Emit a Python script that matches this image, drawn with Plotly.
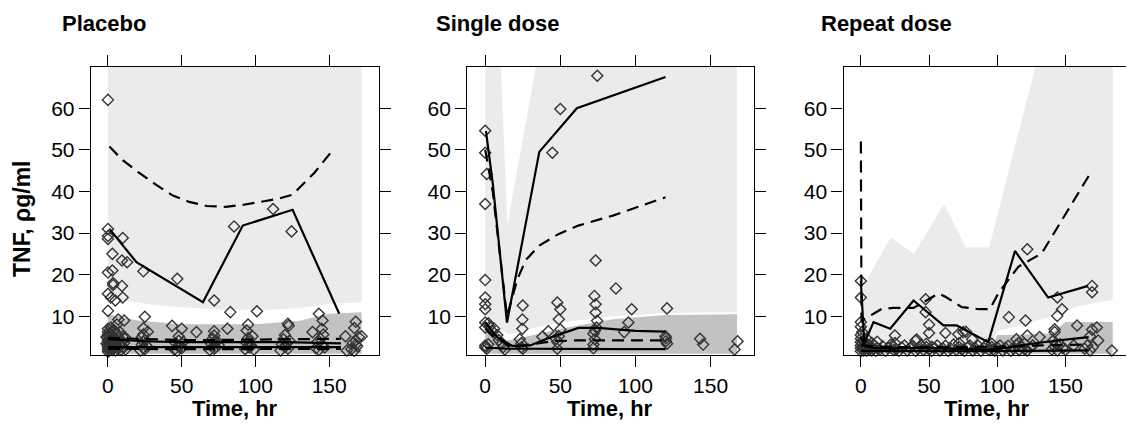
import plotly.graph_objects as go

# ---------------- axes / labels ----------------
PANEL_TITLES = ["Placebo", "Single dose", "Repeat dose"]
X_TICKS = [0, 50, 100, 150]
Y_TICKS = [10, 20, 30, 40, 50, 60]
X_RANGES = [[-11.6, 184.0], [-12.0, 178.7], [-12.7, 197.3]]
Y_RANGE = [0.7, 69.9]
X_TITLE = "Time, hr"
Y_TITLE = "TNF, ρg/ml"

# ---------------- Placebo ----------------
pl_light_lo_x = [0, 10, 30, 50, 80, 110, 130, 150, 172]
pl_light_lo = [14.2, 13.8, 12.8, 12.2, 11.6, 11.6, 12.0, 13.0, 13.3]
pl_light_hi_x = [0, 172]
pl_light_hi = [70, 70]
pl_dark_x = [0, 20, 50, 100, 130, 150, 172]
pl_dark_hi = [10.5, 9.0, 8.1, 8.1, 8.9, 10.6, 11.0]
pl_dark_lo = [1.0, 1.0, 1.0, 1.0, 1.0, 1.0, 1.0]

pl_obs95_x = [1, 19.3, 64.4, 91.4, 125.2, 156.8]
pl_obs95 = [31, 23, 13.4, 31.8, 35.6, 10.6]
pl_sim95_x = [1, 10, 21, 33, 44, 55, 67, 80, 92, 103, 115, 125, 140, 153]
pl_sim95 = [50.8, 47.5, 44.5, 41.5, 39, 37.5, 36.5, 36.3, 36.8, 37.4, 38.2, 39.2, 44.5, 50.2]
pl_med_x = [0, 24, 48, 72, 96, 120, 144, 158]
pl_obs50 = [4.5, 4.0, 3.8, 3.8, 3.9, 3.8, 3.6, 3.5]
pl_sim50 = [4.8, 4.5, 4.3, 4.3, 4.4, 4.4, 4.6, 4.6]
pl_obs05 = [2.6, 2.6, 2.5, 2.5, 2.5, 2.5, 2.6, 2.6]
pl_sim05 = [2.2, 2.1, 2.1, 2.1, 2.1, 2.1, 2.2, 2.2]

pl_points = [
    (0, 62), (0, 31), (0, 28.6), (0, 29.3), (3, 25), (10, 28.8), (0, 20.5), (3, 21),
    (3.5, 18), (0, 15.4), (3.5, 17.5), (5, 13.8), (9.5, 17.3), (10, 14.5), (9.5, 23.4),
    (13, 23), (0, 11.3), (2, 14.5), (24, 20.8), (47, 19), (72, 13.8), (85.5, 31.6),
    (112, 35.8), (124.5, 30.4), (83, 11), (101, 11.2), (143, 10.6), (25, 9.9), (11, 9),
    (43.5, 7.7), (50, 7), (60, 6.2), (72, 6.4), (81, 7), (94, 6.6), (95, 8), (122, 8.2),
    (122.5, 7.7), (138.7, 6.2), (145, 7), (145.5, 9), (161, 5.2), (168, 8.7), (167, 7.2),
    (172, 5.2), (168, 3.2), (162, 1.8), (6, 8), (4, 6.5), (7, 9.2),
    (0, 1.5), (0, 2.0), (0, 2.6), (0, 3.1), (0, 3.7), (0, 4.2), (0, 4.9), (0, 5.6),
    (0, 6.3), (0, 7.0), (0.5, 2.3), (0.5, 5.3), (1, 1.7), (1, 3.4), (1, 6.0), (1.5, 2.8),
    (2, 2.1), (2, 4.0), (2, 7.3), (3, 1.9), (3, 3.3), (3, 5.1), (4, 2.4), (4, 4.6),
    (4, 6.7), (5, 1.8), (5, 3.9), (6, 2.7), (6, 4.3), (6, 5.8), (7, 2.2), (8, 3.0),
    (8, 6.2), (9, 1.9), (10, 2.6), (11, 3.6), (12, 2.0), (12, 4.8), (-1, 3.4), (-1, 5.0),
    (1, 4.5), (2, 5.6), (3, 2.5), (5, 3.0), (7, 4.9), (9, 3.8), (10, 5.1),
    (22, 1.8), (23, 3.2), (23, 5.0), (24, 2.4), (24, 3.9), (24, 5.6), (24, 7.1),
    (25, 2.1), (25, 4.3), (26, 3.0), (27, 6.3),
    (45, 2.0), (46, 3.5), (47, 1.7), (48, 2.7), (48, 4.1), (48, 5.2), (49, 3.0),
    (50, 2.3), (51, 3.8),
    (69, 1.9), (70, 3.4), (71, 4.6), (72, 2.2), (72, 3.8), (72, 5.4), (73, 2.6),
    (74, 4.0), (75, 3.1),
    (93, 2.1), (94, 3.6), (95, 4.8), (96, 2.5), (96, 3.9), (97, 3.0), (98, 5.2), (99, 2.0),
    (117, 1.8), (118, 3.3), (119, 4.5), (120, 2.6), (120, 5.5), (121, 3.7), (122, 2.2),
    (123, 4.1),
    (141, 2.3), (142, 3.8), (143, 1.9), (144, 4.6), (145, 3.1), (146, 5.6), (147, 2.5),
    (165, 2.1), (166, 3.6), (167, 1.7), (168, 4.2), (169, 2.8), (170, 5.0),
]

# ---------------- Single dose ----------------
sd_light_lo_x = [0, 5, 10, 15, 20, 30, 50, 85, 120, 167.6]
sd_light_lo = [10.5, 9.0, 7.0, 5.8, 6.0, 7.0, 8.5, 10.0, 10.8, 11.0]
sd_light_hi_x = [0, 10.4, 14.8, 33.7, 167.6]
sd_light_hi = [70, 70, 32, 70, 70]
sd_dark_x = [0, 5, 10, 15, 20, 30, 50, 85, 120, 167.6]
sd_dark_hi = [8.5, 7.0, 5.0, 4.2, 4.5, 5.3, 7.0, 9.3, 10.3, 10.5]
sd_dark_lo = [1.0, 1.0, 1.0, 1.0, 1.0, 1.0, 1.0, 1.0, 1.0, 1.0]

sd_obs95_x = [0.5, 5, 14.5, 36, 61, 120]
sd_obs95 = [54.5, 42, 8.5, 49.5, 60, 67.5]
sd_sim95_x = [0, 5, 14.5, 21.5, 27, 36, 49, 62, 85, 120]
sd_sim95 = [50, 40, 10, 19, 23.5, 27, 29.8, 31.8, 34.2, 38.6]
sd_obs50_x = [0, 8, 18, 30, 40, 50, 62, 75, 100, 120]
sd_obs50 = [8.5, 5.0, 2.9, 3.0, 4.5, 5.8, 7.2, 7.2, 6.5, 6.3]
sd_sim50_x = [0, 8, 18, 30, 45, 60, 90, 120]
sd_sim50 = [7.0, 4.5, 2.6, 3.2, 4.0, 4.2, 4.2, 4.2]
sd_obs05_x = [0, 15, 30, 60, 90, 120]
sd_obs05 = [2.5, 2.2, 2.2, 2.1, 2.1, 2.1]

sd_points = [
    (0, 54.6), (0, 49.3), (1, 44.2), (0, 37), (0, 18.7), (0, 14.5), (0, 12.9), (0, 11.7),
    (0, 8.5), (0, 7.3), (74.6, 67.8), (50, 59.8), (44.7, 49.3), (73.5, 23.4), (87, 16.7),
    (72.7, 14.9), (73.5, 12.9), (73.5, 10.9), (74.5, 8.9), (97.5, 11.7), (95.3, 8.5),
    (121, 11.9), (48, 13.3), (50, 11.7), (25, 12.6), (24.7, 9.2), (24.7, 7), (49, 9.3),
    (42, 6.4), (38, 5.1), (92.5, 6.2), (143, 4.6), (145, 3.2), (168, 4), (166, 2),
    (120.3, 4), (120.3, 4.7),
    (2, 8.3), (3, 7.5), (5, 6.3), (6, 7), (8, 5.5), (9, 4.3), (11, 3.4), (12, 2.6),
    (13, 2), (0, 3), (0, 2.5), (1, 2.2), (2, 3.3), (24, 2.5), (24, 3.5), (25, 2.2),
    (23, 4.5), (48, 2.2), (48, 3.8), (49, 5.2), (50, 6.8), (47, 4.6), (72, 2.3),
    (72, 3.2), (73, 4.5), (72, 5.8), (74, 7.3), (73, 6.5), (121, 3.4), (120, 5.2),
]

# ---------------- Repeat dose ----------------
rd_light_lo_x = [0, 95, 100, 120, 140, 160, 184.6]
rd_light_lo = [3.0, 3.0, 6.5, 8.0, 10.0, 12.5, 14.0]
rd_light_hi_x = [0, 3, 22, 39, 61, 77, 94, 128, 184.6]
rd_light_hi = [14, 18, 29, 25, 37, 26.5, 26.5, 70, 70]
rd_dark_x = [0, 95, 100, 120, 140, 150, 184.6]
rd_dark_hi = [2.5, 2.5, 5.5, 5.6, 5.9, 8.6, 8.6]
rd_dark_lo = [1.0, 1.0, 1.0, 1.0, 1.0, 1.0, 1.0]

rd_obs95_x = [0, 2.5, 9.3, 21.5, 38.6, 60.5, 70.2, 93.4, 113, 137.3, 166.6]
rd_obs95 = [18.5, 3.5, 8.6, 7, 13.8, 7.8, 7.8, 3.8, 25.7, 14.5, 17.3]
rd_sim95_x = [0, 0.5, 9.3, 15.4, 24, 38.6, 57, 62, 74, 87, 94.6, 100.7, 115.4, 132.5, 167]
rd_sim95 = [52, 9, 10.6, 11.8, 12, 12, 15.5, 14.7, 12.2, 11.7, 11.7, 15.5, 21.9, 25.1, 43.7]
rd_obs50_x = [0, 3, 10, 20, 40, 60, 80, 95, 110, 125, 145, 167]
rd_obs50 = [5.0, 2.8, 2.4, 2.2, 2.4, 2.2, 2.1, 2.0, 2.6, 3.4, 4.2, 5.0]
rd_sim50_x = [0, 20, 60, 100, 130, 167]
rd_sim50 = [3.0, 2.6, 2.6, 2.7, 3.0, 3.2]
rd_obs05_x = [0, 40, 80, 120, 167]
rd_obs05 = [1.7, 1.6, 1.6, 1.7, 1.8]

rd_points = [
    (0, 18.5), (0, 14.5), (0, 8.6), (0, 7.5), (47.5, 14.1), (47.5, 11), (50, 8), (50, 6),
    (62, 6), (40, 4.2), (77, 6.3), (81.6, 4.5), (108.5, 9.8), (120.7, 9), (122, 5.4),
    (122, 26.1), (144, 14.5), (144, 10.1), (147.5, 11.7), (158.5, 7.8), (169.5, 17.3),
    (169.5, 15.8), (174, 4.2), (184, 1.8), (173, 7.3), (169.5, 6.8), (156, 3), (141, 4.2),
    (143, 3.4), (131, 5), (114, 4.5), (115.5, 3.5), (52, 2.7), (25, 5.4), (41, 4.4),
    (71.4, 5.7), (75, 6.2), (142, 6.9), (142, 6.2),
    (0, 1.6), (0, 2.3), (0, 3.0), (0, 3.8), (0, 4.6), (0, 5.5), (1, 2.0), (1, 3.4),
    (1, 6.2), (2, 1.8), (2, 2.7), (2, 4.1), (3, 2.2), (3, 3.3), (4, 1.7), (4, 2.9),
    (5, 2.4), (5, 4.4), (6, 1.9), (6, 3.1), (7, 2.6), (8, 1.8), (8, 3.6), (9, 2.2),
    (10, 2.9), (11, 1.7), (12, 2.4), (12, 3.9), (14, 2.0), (16, 2.8), (18, 1.7),
    (20, 2.3), (22, 3.2), (24, 1.9), (24, 2.7), (25, 3.6), (26, 2.1), (28, 1.7),
    (30, 2.5), (32, 3.0), (34, 1.8), (36, 2.4), (38, 2.9), (40, 1.7), (42, 2.2),
    (44, 3.1), (46, 1.9), (48, 2.6), (48, 3.4), (50, 2.0), (52, 1.7), (54, 2.4),
    (56, 3.0), (58, 1.8), (60, 2.3), (62, 2.9), (64, 1.7), (66, 2.2), (68, 3.2),
    (70, 1.9), (72, 2.6), (72, 3.5), (74, 2.0), (76, 1.7), (78, 2.5), (80, 3.0),
    (82, 1.8), (84, 2.3), (86, 2.9), (88, 1.7), (90, 2.4), (92, 3.1), (94, 1.9),
    (96, 2.6), (96, 3.4), (97, 2.0), (98, 1.7), (100, 2.5), (102, 3.0), (104, 1.8),
    (106, 2.4), (108, 2.9), (110, 1.7), (112, 2.2), (114, 3.1), (116, 1.9), (118, 2.6),
    (120, 2.1), (120, 3.4), (122, 1.8), (124, 2.5), (126, 3.0), (140, 2.0), (142, 2.8),
    (144, 1.8), (146, 3.3), (148, 2.4), (150, 1.9), (164, 2.2), (166, 3.0), (168, 1.8),
    (168, 5.2), (170, 2.6),
]

# ---------------- styling ----------------
W, H = 1134, 429
OFF = 8  # the page body adds an 8px margin on top and left
X_DOMAINS_PX = [(91, 380), (468, 755), (845, 1132)]
TITLE_LEFT_PX = [62, 437, 822]
Y_TOP_PX, Y_BOT_PX = 67, 355
LIGHT = "#ebebeb"
DARK = "#c2c2c2"
FONT = "Liberation Sans, Arial, sans-serif"
DASH = "12px,7px"


def px_x(px):
    return (px - OFF) / W


def px_y(py):
    return 1 - (py - OFF) / H


panels = [
    dict(light_lo_x=pl_light_lo_x, light_lo=pl_light_lo, light_hi_x=pl_light_hi_x, light_hi=pl_light_hi,
         dark_x=pl_dark_x, dark_hi=pl_dark_hi, dark_lo=pl_dark_lo,
         lines=[(pl_obs95_x, pl_obs95, "solid"), (pl_sim95_x, pl_sim95, DASH),
                (pl_med_x, pl_sim50, DASH), (pl_med_x, pl_obs50, "solid"),
                (pl_med_x, pl_sim05, DASH), (pl_med_x, pl_obs05, "solid")],
         points=pl_points),
    dict(light_lo_x=sd_light_lo_x, light_lo=sd_light_lo, light_hi_x=sd_light_hi_x, light_hi=sd_light_hi,
         dark_x=sd_dark_x, dark_hi=sd_dark_hi, dark_lo=sd_dark_lo,
         lines=[(sd_obs95_x, sd_obs95, "solid"), (sd_sim95_x, sd_sim95, DASH),
                (sd_obs50_x, sd_obs50, "solid"), (sd_sim50_x, sd_sim50, DASH),
                (sd_obs05_x, sd_obs05, "solid")],
         points=sd_points),
    dict(light_lo_x=rd_light_lo_x, light_lo=rd_light_lo, light_hi_x=rd_light_hi_x, light_hi=rd_light_hi,
         dark_x=rd_dark_x, dark_hi=rd_dark_hi, dark_lo=rd_dark_lo,
         lines=[(rd_obs95_x, rd_obs95, "solid"), (rd_sim95_x, rd_sim95, DASH),
                (rd_obs50_x, rd_obs50, "solid"), (rd_sim50_x, rd_sim50, DASH),
                (rd_obs05_x, rd_obs05, "solid")],
         points=rd_points),
]

fig = go.Figure()
layout = dict(width=W, height=H, margin=dict(l=0, r=0, t=0, b=0),
              paper_bgcolor="white", plot_bgcolor="white", showlegend=False,
              font=dict(family=FONT, color="black"))

y0 = px_y(Y_BOT_PX)
y1 = px_y(Y_TOP_PX)
annotations = []

for i, p in enumerate(panels):
    xa = "x" if i == 0 else f"x{i+1}"
    ya = "y" if i == 0 else f"y{i+1}"
    fig.add_trace(go.Scatter(
        x=list(p["light_lo_x"]) + list(p["light_hi_x"])[::-1],
        y=list(p["light_lo"]) + list(p["light_hi"])[::-1],
        fill="toself", fillcolor=LIGHT, line=dict(width=0), mode="lines",
        hoverinfo="skip", xaxis=xa, yaxis=ya))
    fig.add_trace(go.Scatter(
        x=list(p["dark_x"]) + list(p["dark_x"])[::-1],
        y=list(p["dark_lo"]) + list(p["dark_hi"])[::-1],
        fill="toself", fillcolor=DARK, line=dict(width=0), mode="lines",
        hoverinfo="skip", xaxis=xa, yaxis=ya))
    pts = p["points"]
    fig.add_trace(go.Scatter(
        x=[t for t, c in pts], y=[c for t, c in pts], mode="markers",
        marker=dict(symbol="diamond-open", size=8.5, color="#333333", line=dict(width=1.4)),
        xaxis=xa, yaxis=ya, cliponaxis=False))
    for lx, ly, dash in p["lines"]:
        fig.add_trace(go.Scatter(x=lx, y=ly, mode="lines",
                                 line=dict(color="black", width=2.2, dash=dash),
                                 xaxis=xa, yaxis=ya))

    dx0, dx1 = X_DOMAINS_PX[i]
    axis_common = dict(showline=True, linecolor="black", linewidth=1.3, mirror="ticks",
                       ticks="outside", ticklen=11, tickwidth=1.3, tickcolor="black",
                       showgrid=False, zeroline=False,
                       tickfont=dict(family=FONT, size=21, color="black"))
    layout["xaxis" if i == 0 else f"xaxis{i+1}"] = dict(
        axis_common, domain=[px_x(dx0), px_x(dx1)], range=X_RANGES[i],
        tickvals=X_TICKS, anchor=ya, ticklabelstandoff=1)
    layout["yaxis" if i == 0 else f"yaxis{i+1}"] = dict(
        axis_common, domain=[y0, y1], range=Y_RANGE,
        tickvals=Y_TICKS, anchor=xa, ticklabelstandoff=0)

    annotations.append(dict(text=f"<b>{PANEL_TITLES[i]}</b>", x=px_x(TITLE_LEFT_PX[i] - 2), y=px_y(24),
                            xref="paper", yref="paper", xanchor="left", yanchor="middle",
                            showarrow=False, font=dict(family=FONT, size=22, color="black")))
    annotations.append(dict(text=f"<b>{X_TITLE}</b>", x=px_x((dx0 + dx1) / 2), y=px_y(408),
                            xref="paper", yref="paper", xanchor="center", yanchor="middle",
                            showarrow=False, font=dict(family=FONT, size=22, color="black")))

annotations.append(dict(text=f"<b>{Y_TITLE}</b>", x=px_x(22), y=px_y(219), textangle=-90,
                        xref="paper", yref="paper", xanchor="center", yanchor="middle",
                        showarrow=False, font=dict(family=FONT, size=23, color="black")))
layout["annotations"] = annotations
fig.update_layout(**layout)
fig.write_html("out.html")
